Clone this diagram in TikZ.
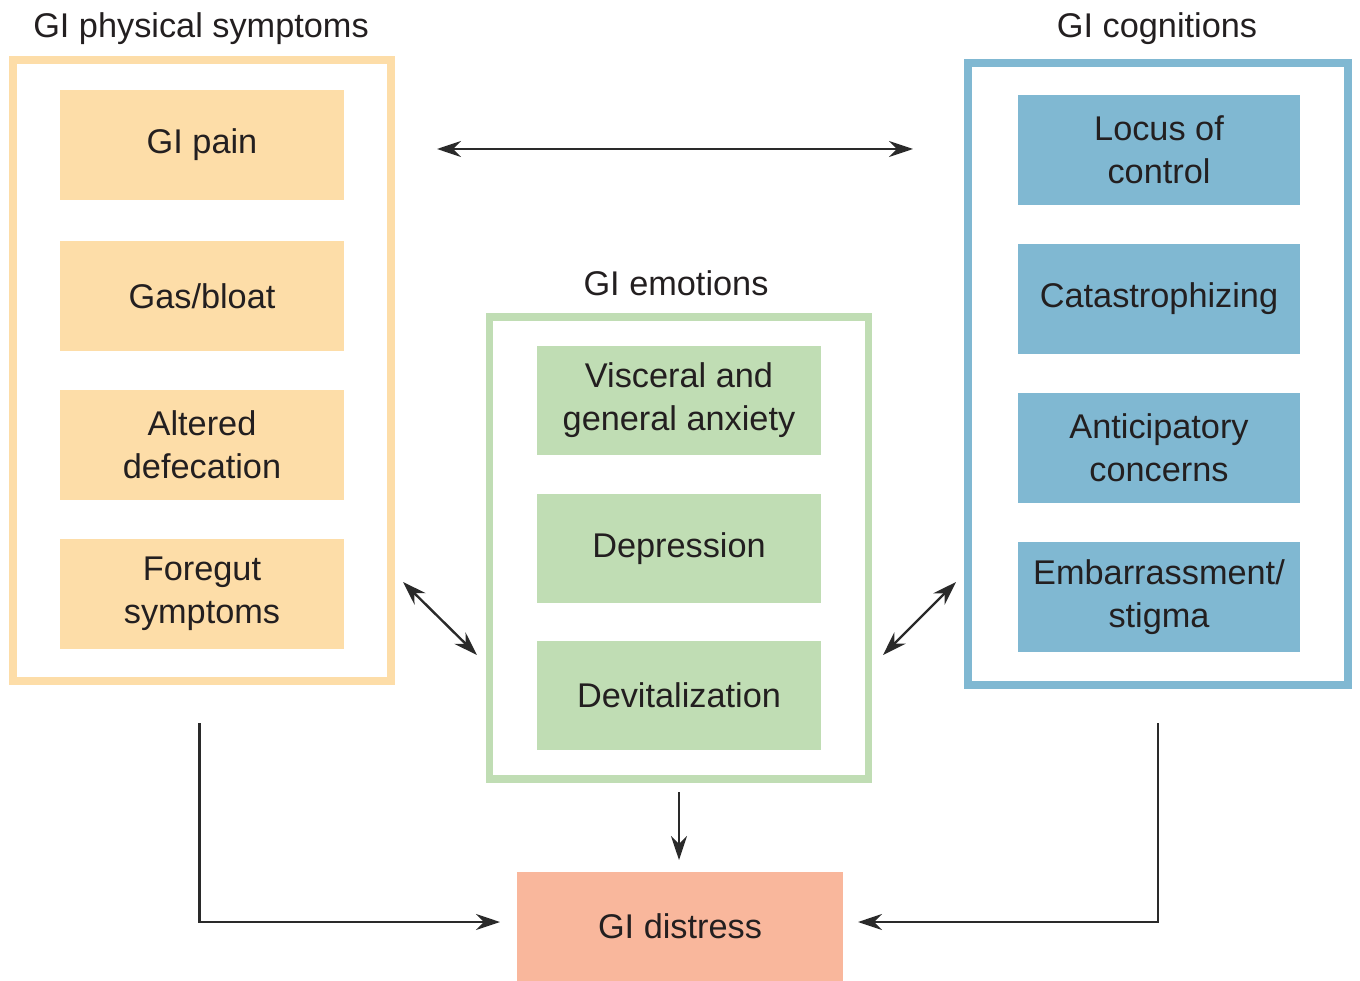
\documentclass[tikz,border=0pt]{standalone}
\usepackage{fontspec}
\setmainfont{Liberation Sans}
\usetikzlibrary{arrows.meta}
\definecolor{txt}{HTML}{231F20}
\definecolor{orfill}{HTML}{FDDDA8}
\definecolor{grfill}{HTML}{C0DDB4}
\definecolor{blfill}{HTML}{80B8D2}
\definecolor{dsfill}{HTML}{F9B79C}
\definecolor{arr}{HTML}{2A2A2A}
\tikzset{
  lbl/.style={font=\fontsize{34.3}{43}\selectfont, text=txt, align=center, inner sep=0pt},
  ttl/.style={font=\fontsize{34.3}{43}\selectfont, text=txt, inner sep=0pt, anchor=base},
  frame/.style={draw, line width=7.5pt, fill=white, inner sep=0pt},
  obox/.style={lbl, fill=orfill, minimum width=284pt, minimum height=110pt},
  gbox/.style={lbl, fill=grfill, minimum width=284pt, minimum height=109pt},
  bbox/.style={lbl, fill=blfill, minimum width=282pt, minimum height=110pt},
  tip/.tip={Stealth[length=24pt,width=16pt,inset=8pt]},
  conn/.style={draw=arr, line width=2.4pt, -tip},
  dconn/.style={draw=arr, line width=2.4pt, tip-tip},
}
\begin{document}
\begin{tikzpicture}[x=1pt,y=-1pt]
\useasboundingbox (0,0) rectangle (1360,981);
% frames
\node[frame, draw=orfill, minimum width=378pt, minimum height=621pt] (physframe) at (202,370.5) {};
\node[frame, draw=grfill, minimum width=379pt, minimum height=462pt] (emoframe) at (679,548) {};
\node[frame, draw=blfill, minimum width=380pt, minimum height=622pt] (cogframe) at (1158,374) {};
% titles
\node[ttl] (phystitle) at (201,38) {GI physical symptoms};
\node[ttl] (emotitle) at (676,296) {GI emotions};
\node[ttl] (cogtitle) at (1157,38) {GI cognitions};
% physical boxes
\node[obox] (pain) at (202,145) {GI pain};
\node[obox] (gas) at (202,296) {Gas/bloat};
\node[obox] (altered) at (202,445) {Altered\\defecation};
\node[obox] (foregut) at (202,594) {Foregut\\symptoms};
% emotion boxes
\node[gbox] (visceral) at (679,400.5) {Visceral and\\general anxiety};
\node[gbox] (depression) at (679,548.5) {Depression};
\node[gbox] (devital) at (679,695) {Devitalization};
% cognition boxes
\node[bbox] (locus) at (1159,150) {Locus of\\control};
\node[bbox] (catas) at (1159,299) {Catastrophizing};
\node[bbox] (antic) at (1159,448) {Anticipatory\\concerns};
\node[bbox] (embar) at (1159,597) {Embarrassment/\\stigma};
% distress
\node[lbl, fill=dsfill, minimum width=326pt, minimum height=109pt] (distress) at (680,926.5) {GI distress};
% connector ends
\coordinate (hL) at (437,149);
\coordinate (hR) at (913,149);
\coordinate (dL1) at (403,582);
\coordinate (dL2) at (477,655);
\coordinate (dR1) at (956,582);
\coordinate (dR2) at (883,655);
\coordinate (downA) at (679,792);
\coordinate (downB) at (679,860);
\coordinate (lTop) at (199.5,723);
\coordinate (lEnd) at (500,922);
\coordinate (rTop) at (1158,723);
\coordinate (rEnd) at (858,922);
% connectors
\draw[dconn] (hL) -- (hR);
\draw[dconn] (dL1) -- (dL2);
\draw[dconn] (dR1) -- (dR2);
\draw[conn] (downA) -- (downB);
\draw[conn] (lTop) |- (lEnd);
\draw[conn] (rTop) |- (rEnd);
\end{tikzpicture}
\end{document}
